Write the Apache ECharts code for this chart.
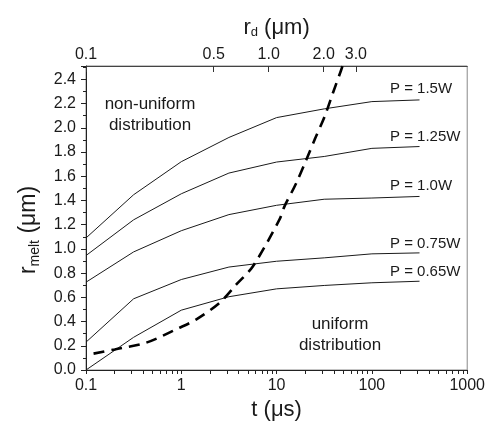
<!DOCTYPE html>
<html>
<head>
<meta charset="utf-8">
<script src="https://cdn.jsdelivr.net/npm/echarts@6/dist/echarts.min.js"></script>
<style>
  html, body { margin: 0; padding: 0; background: #fff; }
  #main { width: 488px; height: 426px; }
</style>
</head>
<body>
<div id="main"></div>
<script>
// time points (us) of the melt-radius curves
var tPts = [0.1, 0.316, 1, 3.16, 10, 31.6, 100, 316];
var p150 = [1.09, 1.447, 1.72, 1.92, 2.084, 2.156, 2.216, 2.23];
var p125 = [0.945, 1.24, 1.455, 1.626, 1.717, 1.763, 1.83, 1.845];
var p100 = [0.725, 0.975, 1.15, 1.283, 1.36, 1.41, 1.42, 1.433];
var p075 = [0.23, 0.588, 0.747, 0.85, 0.898, 0.926, 0.959, 0.967];
var p065 = [0.0, 0.27, 0.494, 0.605, 0.67, 0.698, 0.72, 0.733];

// dashed curve (diffusion radius)
var dashT = [0.12, 0.2, 0.43, 0.96, 1.44, 2.53, 3.78, 5.65, 10.7, 12.1, 16.1, 20.5, 25, 31.8, 38.9, 47.6, 50];
var dashV = [0.135, 0.17, 0.226, 0.349, 0.418, 0.555, 0.706, 0.857, 1.241, 1.351, 1.544, 1.736, 1.9, 2.09, 2.285, 2.477, 2.53];

var powerNames = ['P = 1.5W', 'P = 1.25W', 'P = 1.0W', 'P = 0.75W', 'P = 0.65W'];

// axis ticks
var tLabels = [0.1, 1, 10, 100, 1000];
var rdLabels = [0.1, 0.5, 1, 2, 3];

var tMinor = [];
[0.1, 1, 10, 100].forEach(function (d) {
    for (var k = 1; k <= 9; k++) tMinor.push(d * k);
});
tMinor.push(1000);

function pairs(xs, ys) {
    return xs.map(function (x, i) { return [x, ys[i]]; });
}

var myChart = echarts.init(document.getElementById('main'));

var FONT = '"Liberation Sans", Arial, sans-serif';
var ink = '#1a1a1a';

function curve(name, vals) {
    return {
        name: name,
        type: 'line',
        xAxisIndex: 0,
        symbol: 'none',
        silent: true,
        lineStyle: { color: ink, width: 1 },
        data: pairs(tPts, vals)
    };
}

var option = {
    animation: false,
    textStyle: { fontFamily: FONT },

    grid: {
        left: 86,
        right: 20,
        top: 66,
        bottom: 55,
        show: true,
        borderColor: '#888',
        borderWidth: 1,
        backgroundColor: 'transparent'
    },

    xAxis: [{
        type: 'log',
        logBase: 10,
        position: 'bottom',
        min: 0.1,
        max: 1000,
        name: 't (μs)',
        nameLocation: 'middle',
        nameGap: 29,
        nameTextStyle: { fontSize: 22, color: ink, fontFamily: FONT },
        axisLine: { show: true, lineStyle: { color: '#222', width: 1 } },
        axisTick: {
            show: true,
            inside: false,
            length: 4,
            customValues: tMinor,
            lineStyle: { color: '#222' }
        },
        axisLabel: {
            customValues: tLabels,
            color: ink,
            fontSize: 16,
            margin: 8,
            fontFamily: FONT,
            formatter: function (v) { return v < 1 ? '0.1' : String(Math.round(v)); }
        },
        splitLine: { show: false },
        minorTick: { show: false }
    }, {
        type: 'log',
        logBase: 10,
        position: 'top',
        min: 0.1,
        max: 12.2,
        name: '{r|r}{s|d}{r| (μm)}',
        nameLocation: 'middle',
        nameGap: 27,
        nameTextStyle: {
            color: ink,
            rich: {
                r: { fontSize: 22, color: ink, fontFamily: FONT },
                s: { fontSize: 13, color: ink, fontFamily: FONT, verticalAlign: 'bottom', padding: [10, 0, 0, 0] }
            }
        },
        axisLine: { show: true, lineStyle: { color: '#444', width: 1 } },
        axisTick: {
            show: true,
            inside: true,
            length: 6,
            customValues: rdLabels,
            lineStyle: { color: '#333' }
        },
        axisLabel: {
            customValues: rdLabels,
            color: ink,
            fontSize: 16,
            margin: 3,
            fontFamily: FONT,
            formatter: function (v) { return v.toFixed(1); }
        },
        splitLine: { show: false }
    }],

    yAxis: {
        type: 'value',
        min: 0,
        max: 2.51,
        interval: 0.2,
        name: '{r|r}{s|melt}{r| (μm)}',
        nameLocation: 'middle',
        nameGap: 44,
        nameTextStyle: {
            color: ink,
            padding: [0, 24, 0, 0],
            rich: {
                r: { fontSize: 23, color: ink, fontFamily: FONT },
                s: { fontSize: 14, color: ink, fontFamily: FONT, verticalAlign: 'bottom', padding: [12, 0, 0, 0] }
            }
        },
        axisLine: { show: true, lineStyle: { color: '#222', width: 1 } },
        axisTick: { show: true, inside: false, length: 5, lineStyle: { color: '#222' } },
        minorTick: { show: true, splitNumber: 2, length: 3, lineStyle: { color: '#222' } },
        axisLabel: {
            color: ink,
            fontSize: 16,
            margin: 10,
            fontFamily: FONT,
            showMaxLabel: false,
            formatter: function (v) { return v.toFixed(1); }
        },
        splitLine: { show: false },
        minorSplitLine: { show: false }
    },

    graphic: [
        { type: 'text', x: 390, y: 89, style: { text: powerNames[0], font: '15px ' + FONT, fill: ink, align: 'left', verticalAlign: 'middle' } },
        { type: 'text', x: 390, y: 137, style: { text: powerNames[1], font: '15px ' + FONT, fill: ink, align: 'left', verticalAlign: 'middle' } },
        { type: 'text', x: 390, y: 186, style: { text: powerNames[2], font: '15px ' + FONT, fill: ink, align: 'left', verticalAlign: 'middle' } },
        { type: 'text', x: 390, y: 244, style: { text: powerNames[3], font: '15px ' + FONT, fill: ink, align: 'left', verticalAlign: 'middle' } },
        { type: 'text', x: 390, y: 272, style: { text: powerNames[4], font: '15px ' + FONT, fill: ink, align: 'left', verticalAlign: 'middle' } },
        { type: 'text', x: 150, y: 104, style: { text: 'non-uniform', font: '17px ' + FONT, fill: ink, align: 'center', verticalAlign: 'middle' } },
        { type: 'text', x: 150, y: 125, style: { text: 'distribution', font: '17px ' + FONT, fill: ink, align: 'center', verticalAlign: 'middle' } },
        { type: 'text', x: 340, y: 324, style: { text: 'uniform', font: '17px ' + FONT, fill: ink, align: 'center', verticalAlign: 'middle' } },
        { type: 'text', x: 340, y: 345, style: { text: 'distribution', font: '17px ' + FONT, fill: ink, align: 'center', verticalAlign: 'middle' } }
    ],

    series: [
        curve(powerNames[0], p150),
        curve(powerNames[1], p125),
        curve(powerNames[2], p100),
        curve(powerNames[3], p075),
        curve(powerNames[4], p065),
        {
            name: 'rd',
            type: 'line',
            xAxisIndex: 0,
            symbol: 'none',
            smooth: 0.3,
            clip: true,
            silent: true,
            lineStyle: { color: '#000', width: 2.6, type: [11, 7] },
            data: pairs(dashT, dashV)
        }
    ]
};

myChart.setOption(option);
</script>
</body>
</html>
